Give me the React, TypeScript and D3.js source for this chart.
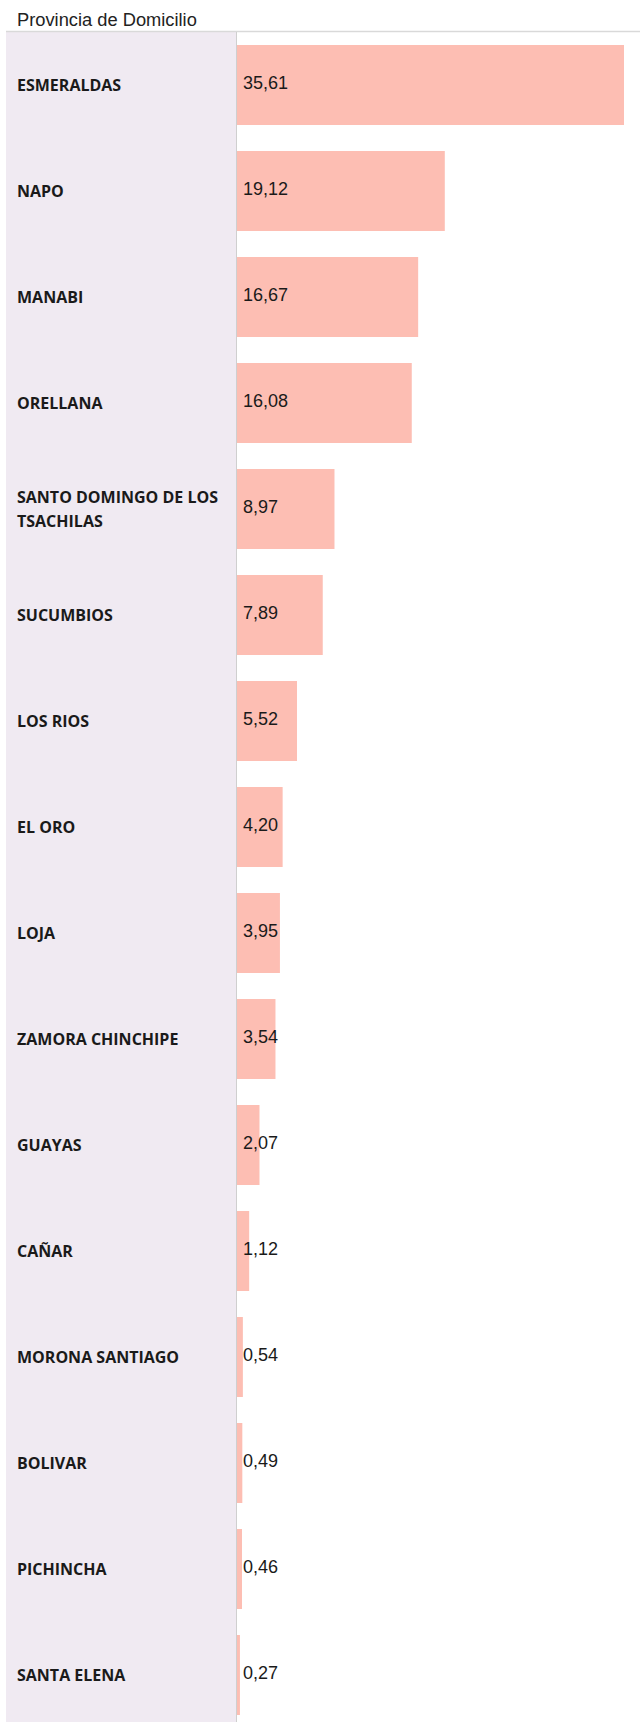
import React, { useEffect, useRef } from "react";
import * as d3 from "d3";

const title = "Provincia de Domicilio";
const provinces = [
  "ESMERALDAS",
  "NAPO",
  "MANABI",
  "ORELLANA",
  "SANTO DOMINGO DE LOS TSACHILAS",
  "SUCUMBIOS",
  "LOS RIOS",
  "EL ORO",
  "LOJA",
  "ZAMORA CHINCHIPE",
  "GUAYAS",
  "CAÑAR",
  "MORONA SANTIAGO",
  "BOLIVAR",
  "PICHINCHA",
  "SANTA ELENA",
];
const values = [35.61, 19.12, 16.67, 16.08, 8.97, 7.89, 5.52, 4.2, 3.95, 3.54, 2.07, 1.12, 0.54, 0.49, 0.46, 0.27];

const W = 640;
const H = 1722;

export default function App() {
  const ref = useRef<SVGSVGElement | null>(null);

  useEffect(() => {
    const svg = d3.select(ref.current);
    svg.selectAll("*").remove();

    const locale = d3.formatLocale({ decimal: ",", thousands: ".", grouping: [3], currency: ["", ""] });
    const fmt = locale.format(".2f");

    const top = 32;
    const panelLeft = 6;
    const axisX = 236.5;
    const step = 106;
    const n = provinces.length;

    const y = d3
      .scaleBand<string>()
      .domain(provinces)
      .range([top, top + n * step])
      .paddingInner(26 / 106)
      .paddingOuter(13 / 106);

    const x = d3.scaleLinear().domain([0, d3.max(values) as number]).range([237, 624]);

    // title
    svg
      .append("text")
      .attr("x", 17)
      .attr("y", 26)
      .attr("font-family", "'Liberation Sans', Arial, sans-serif")
      .attr("font-size", 18.3)
      .attr("fill", "#222")
      .text(title);

    // label panel
    svg
      .append("rect")
      .attr("x", panelLeft)
      .attr("y", top)
      .attr("width", axisX - panelLeft)
      .attr("height", H - top)
      .attr("fill", "#f0eaf2");

    // header line
    svg
      .append("line")
      .attr("x1", panelLeft)
      .attr("x2", W)
      .attr("y1", 31.5)
      .attr("y2", 31.5)
      .attr("stroke", "#d9d9d9")
      .attr("stroke-width", 1.5);

    // vertical divider
    svg
      .append("line")
      .attr("x1", axisX)
      .attr("x2", axisX)
      .attr("y1", top)
      .attr("y2", H)
      .attr("stroke", "#cfcfcf")
      .attr("stroke-width", 1);

    const data = provinces.map((p, i) => ({ p, v: values[i] }));

    // bars
    svg
      .append("g")
      .selectAll("rect")
      .data(data)
      .join("rect")
      .attr("x", x(0))
      .attr("y", (d) => y(d.p) as number)
      .attr("width", (d) => x(d.v) - x(0))
      .attr("height", y.bandwidth())
      .attr("fill", "#fdbeb3");

    // value labels
    svg
      .append("g")
      .selectAll("text")
      .data(data)
      .join("text")
      .attr("x", x(0) + 6)
      .attr("y", (d) => (y(d.p) as number) + y.bandwidth() / 2 + 4)
      .attr("font-family", "'Liberation Sans', Arial, sans-serif")
      .attr("font-size", 18)
      .attr("fill", "#1a1a1a")
      .text((d) => fmt(d.v));

    // category labels with wrapping
    const maxW = 208;
    const lineH = 24;
    const labels = svg
      .append("g")
      .selectAll("text")
      .data(data)
      .join("text")
      .attr("font-family", "'Open Sans', sans-serif")
      .attr("font-weight", 700)
      .attr("font-size", 16)
      .attr("fill", "#1a1a1a");

    labels.each(function (d) {
      const t = d3.select(this);
      const words = d.p.split(" ");
      const lines: string[] = [];
      let cur: string[] = [];
      const probe = t.append("tspan");
      for (const w of words) {
        const test = [...cur, w].join(" ");
        probe.text(test);
        const len = (probe.node() as SVGTextContentElement).getComputedTextLength();
        if (len > maxW && cur.length) {
          lines.push(cur.join(" "));
          cur = [w];
        } else {
          cur.push(w);
        }
      }
      if (cur.length) lines.push(cur.join(" "));
      probe.remove();
      const cy = (y(d.p) as number) + y.bandwidth() / 2;
      const firstBase = cy + 5.5 - ((lines.length - 1) * lineH) / 2;
      lines.forEach((ln, i) => {
        t.append("tspan")
          .attr("x", 17)
          .attr("y", firstBase + i * lineH)
          .text(ln);
      });
    });
  }, []);

  return (
    <svg
      ref={ref}
      width={W}
      height={H}
      style={{ position: "absolute", left: 0, top: 0, display: "block", background: "#fff" }}
    />
  );
}
